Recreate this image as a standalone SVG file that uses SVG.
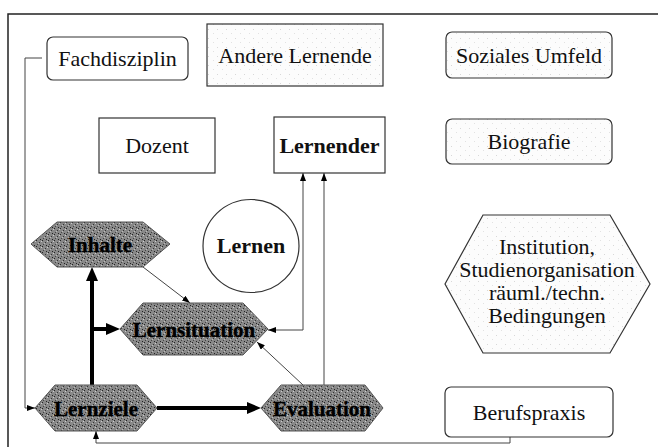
<svg xmlns="http://www.w3.org/2000/svg" width="658" height="447" viewBox="0 0 658 447">
<style>
.box{fill:#fff;stroke:#333;stroke-width:1.2}
.lt{fill:url(#light);stroke:#333;stroke-width:1.2}
.dk{fill:url(#dark);stroke:#555;stroke-width:1}
.t{font-family:"Liberation Serif","Times New Roman",serif;font-size:22px;fill:#111;text-anchor:middle}
.b{font-weight:bold}
.hx{font-family:"Liberation Serif","Times New Roman",serif;font-size:21px;font-weight:bold;fill:#000;text-anchor:middle;stroke:#000;stroke-width:0.4}
.thin{fill:none;stroke:#444;stroke-width:1}
.thick{fill:none;stroke:#000;stroke-width:4}
</style>
<defs>
<pattern id="dark" width="6" height="6" patternUnits="userSpaceOnUse">
<rect width="6" height="6" fill="#888"/>
<rect x="0" y="0" width="1" height="1" fill="#222"/>
<rect x="3" y="2" width="1" height="1" fill="#333"/>
<rect x="1" y="4" width="1" height="1" fill="#444"/>
<rect x="4" y="5" width="1" height="1" fill="#222"/>
<rect x="5" y="1" width="1" height="1" fill="#ccc"/>
<rect x="2" y="3" width="1" height="1" fill="#bbb"/>
</pattern>
<pattern id="light" width="9" height="9" patternUnits="userSpaceOnUse">
<rect width="9" height="9" fill="#fcfcfc"/>
<rect x="1" y="2" width="1" height="1" fill="#d8d8d8"/>
<rect x="6" y="6" width="1" height="1" fill="#e2e2e2"/>
</pattern>
<marker id="sa" markerWidth="8" markerHeight="6" refX="8" refY="3" orient="auto-start-reverse" markerUnits="userSpaceOnUse">
<path d="M0,0 L8,3 L0,6 z" fill="#000"/>
</marker>
<marker id="ba" markerWidth="14" markerHeight="12" refX="0" refY="6" orient="auto" markerUnits="userSpaceOnUse">
<path d="M0,0 L14,6 L0,12 z" fill="#000"/>
</marker>
</defs>
<rect width="658" height="447" fill="#fff"/>
<path d="M8,447 V14 H658" fill="none" stroke="#222" stroke-width="1.5"/>

<g id="connectors">
<path class="thin" d="M42,58 H25 V408 H35" marker-end="url(#sa)"/>
<path class="thin" d="M510,437 V443 H96 V431" marker-end="url(#sa)"/>
<path class="thin" d="M268,330 H303 V173" marker-start="url(#sa)" marker-end="url(#sa)"/>
<path class="thin" d="M324,385 V173" marker-end="url(#sa)"/>
<path class="thin" d="M303,385 L257,342" marker-end="url(#sa)"/>
<path class="thin" d="M143,267 L190,303" marker-end="url(#sa)"/>
<path class="thick" d="M92,385 V281" marker-end="url(#ba)"/>
<path class="thick" d="M92,329 H106" marker-end="url(#ba)"/>
<path class="thick" d="M157,408 H247" marker-end="url(#ba)"/>
</g>

<g id="fachdisziplin">
<rect class="box" x="47" y="37" width="141" height="43" rx="6"/>
<text class="t" x="117.5" y="66">Fachdisziplin</text>
</g>
<g id="andere-lernende">
<rect class="lt" x="207" y="24" width="176" height="62"/>
<text class="t" x="295" y="63">Andere Lernende</text>
</g>
<g id="soziales-umfeld">
<rect class="lt" x="446" y="32" width="166" height="46" rx="6"/>
<text class="t" x="529" y="63">Soziales Umfeld</text>
</g>
<g id="dozent">
<rect class="box" x="99" y="118" width="116" height="55"/>
<text class="t" x="157" y="153">Dozent</text>
</g>
<g id="lernender">
<rect class="box" x="274" y="117" width="111" height="56"/>
<text class="t b" x="329.5" y="153">Lernender</text>
</g>
<g id="biografie">
<rect class="lt" x="446" y="119" width="166" height="45" rx="6"/>
<text class="t" x="529" y="149">Biografie</text>
</g>
<g id="lernen">
<ellipse cx="251" cy="246" rx="48" ry="46.5" fill="#fff" stroke="#333" stroke-width="1.2"/>
<text class="t b" x="251" y="253" font-size="21">Lernen</text>
</g>
<g id="institution">
<polygon class="lt" points="445,284 483,215 610,215 650,284 610,353 483,353"/>
<text class="t" x="547" y="254">Institution,</text>
<text class="t" x="547" y="277">Studienorganisation</text>
<text class="t" x="547" y="300">räuml./techn.</text>
<text class="t" x="547" y="323">Bedingungen</text>
</g>
<g id="inhalte">
<polygon class="dk" points="31,244 57,222 143,222 170,244 143,267 57,267"/>
<text class="hx" x="100" y="252">Inhalte</text>
</g>
<g id="lernsituation">
<polygon class="dk" points="120,329 143,303 243,303 268,329 243,355 143,355"/>
<text class="hx" x="194" y="337">Lernsituation</text>
</g>
<g id="lernziele">
<polygon class="dk" points="35,408 55,385 137,385 157,408 137,431 55,431"/>
<text class="hx" x="96" y="416">Lernziele</text>
</g>
<g id="evaluation">
<polygon class="dk" points="261,408 281,385 365,385 383,408 365,431 281,431"/>
<text class="hx" x="322" y="416">Evaluation</text>
</g>
<g id="berufspraxis">
<rect class="box" x="445" y="387" width="168" height="50" rx="6"/>
<text class="t" x="529" y="420">Berufspraxis</text>
</g>
</svg>
